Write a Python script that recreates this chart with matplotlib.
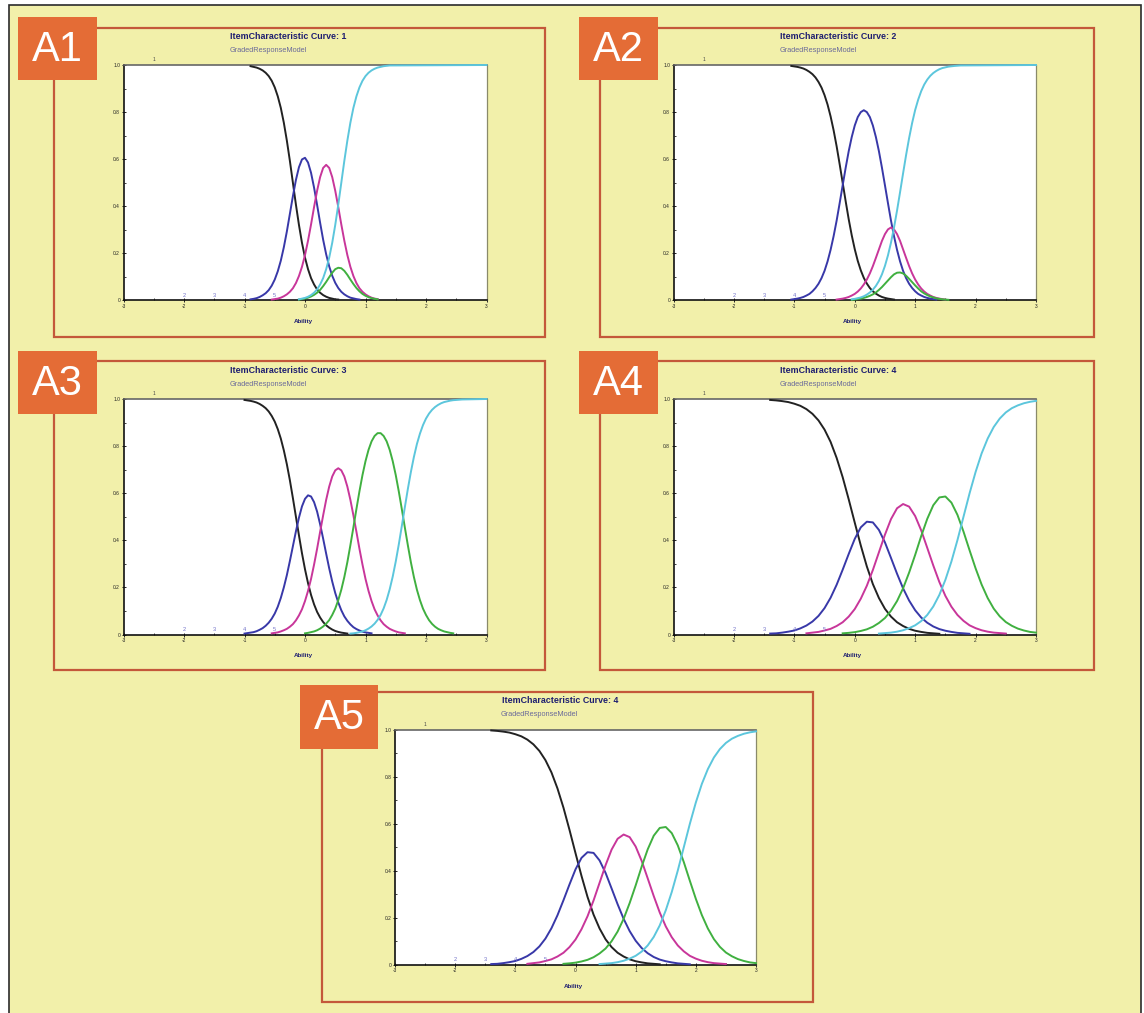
import matplotlib
matplotlib.use("Agg")
import matplotlib.pyplot as plt
from matplotlib.patches import Rectangle
from matplotlib.ticker import MultipleLocator

plt.rcParams["axes.unicode_minus"] = False
plt.rcParams["font.family"] = ["Liberation Sans", "DejaVu Sans"]

nan = float("nan")

# ---- values (probability of each response category vs ability) ----
category_labels = ["1", "2", "3", "4", "5"]
subtitle = "GradedResponseModel"
x_label = "Ability"
panel_tags = ["A1", "A2", "A3", "A4", "A5"]
panel_titles = ["ItemCharacteristic Curve: 1", "ItemCharacteristic Curve: 2",
                "ItemCharacteristic Curve: 3", "ItemCharacteristic Curve: 4",
                "ItemCharacteristic Curve: 4"]
y_ticks = [0, 0.2, 0.4, 0.6, 0.8, 1.0]
y_tick_labels = ["0", "0.2", "0.4", "0.6", "0.8", "1.0"]
x_ticks = [-3, -2, -1, 0, 1, 2, 3]

# item 1
a1_x = [-0.90, -0.85, -0.80, -0.75, -0.70, -0.65, -0.60, -0.55, -0.50, -0.45,
        -0.40, -0.35, -0.30, -0.25, -0.20, -0.15, -0.10, -0.05, 0.00, 0.05,
        0.10, 0.15, 0.20, 0.25, 0.30, 0.35, 0.40, 0.45, 0.50, 0.55,
        0.60, 0.65, 0.70, 0.75, 0.80, 0.85, 0.90, 0.95, 1.00, 1.05,
        1.10, 1.15, 1.20, 1.30, 1.40, 3.00]
a1_black = [0.995, 0.992, 0.989, 0.984, 0.977, 0.967, 0.953, 0.933, 0.905, 0.867,
            0.818, 0.755, 0.679, 0.593, 0.500, 0.407, 0.321, 0.245, 0.182, 0.133,
            0.095, 0.068, 0.047, 0.033, 0.023, 0.016, 0.011, 0.008, 0.005, 0.004] + [nan] * 16
a1_blue = [0.005, 0.007, 0.010, 0.015, 0.022, 0.031, 0.044, 0.063, 0.089, 0.124,
           0.169, 0.226, 0.293, 0.368, 0.443, 0.512, 0.566, 0.599, 0.606, 0.586,
           0.542, 0.479, 0.406, 0.330, 0.258, 0.196, 0.145, 0.105, 0.075, 0.053,
           0.037, 0.026, 0.018, 0.012, 0.009, 0.006, 0.004] + [nan] * 9
a1_magenta = [nan] * 7 + [0.004, 0.006, 0.008, 0.012, 0.018, 0.026, 0.037, 0.052, 0.074, 0.104,
                          0.143, 0.193, 0.254, 0.323, 0.397, 0.466, 0.524, 0.563, 0.576, 0.563,
                          0.524, 0.466, 0.397, 0.323, 0.254, 0.193, 0.143, 0.104, 0.074, 0.052,
                          0.037, 0.026, 0.018, 0.012, 0.008, 0.006] + [nan] * 3
a1_green = [nan] * 16 + [0.004, 0.006, 0.008, 0.012, 0.017, 0.024, 0.033, 0.045, 0.061, 0.079,
                         0.099, 0.118, 0.133, 0.139, 0.137, 0.126, 0.109, 0.089, 0.070, 0.053,
                         0.039, 0.028, 0.020, 0.014, 0.010, 0.007, 0.005] + [nan] * 3
a1_cyan = [nan] * 16 + [0.005, 0.008, 0.011, 0.016, 0.023, 0.033, 0.047, 0.068, 0.095, 0.133,
                        0.182, 0.245, 0.321, 0.407, 0.500, 0.593, 0.679, 0.755, 0.818, 0.867,
                        0.905, 0.933, 0.953, 0.967, 0.977, 0.984, 0.989, 0.995, 0.998, 1.000]

# item 2
a2_x = [-1.05, -1.00, -0.95, -0.90, -0.85, -0.80, -0.75, -0.70, -0.65, -0.60,
        -0.55, -0.50, -0.45, -0.40, -0.35, -0.30, -0.25, -0.20, -0.15, -0.10,
        -0.05, 0.00, 0.05, 0.10, 0.15, 0.20, 0.25, 0.30, 0.35, 0.40,
        0.45, 0.50, 0.55, 0.60, 0.65, 0.70, 0.75, 0.80, 0.85, 0.90,
        0.95, 1.00, 1.05, 1.10, 1.15, 1.20, 1.25, 1.30, 1.35, 1.40,
        1.45, 1.50, 1.55, 1.65, 1.75, 3.00]
a2_black = [0.996, 0.994, 0.992, 0.989, 0.985, 0.979, 0.971, 0.961, 0.947, 0.928,
            0.904, 0.872, 0.832, 0.782, 0.723, 0.655, 0.579, 0.500, 0.421, 0.345,
            0.277, 0.218, 0.168, 0.128, 0.096, 0.072, 0.053, 0.039, 0.029, 0.021,
            0.015, 0.011, 0.008, 0.006, 0.004] + [nan] * 21
a2_blue = [0.004, 0.006, 0.008, 0.011, 0.015, 0.021, 0.028, 0.039, 0.053, 0.071,
           0.095, 0.126, 0.166, 0.215, 0.273, 0.339, 0.413, 0.489, 0.564, 0.634,
           0.694, 0.743, 0.779, 0.800, 0.808, 0.800, 0.779, 0.743, 0.694, 0.634,
           0.564, 0.489, 0.413, 0.339, 0.273, 0.215, 0.166, 0.126, 0.095, 0.071,
           0.053, 0.039, 0.028, 0.021, 0.015, 0.011, 0.008, 0.006, 0.004] + [nan] * 7
a2_magenta = [nan] * 15 + [0.004, 0.006, 0.008, 0.011, 0.015, 0.021, 0.028, 0.038, 0.051, 0.068,
                           0.089, 0.115, 0.146, 0.181, 0.217, 0.253, 0.282, 0.302, 0.310, 0.302,
                           0.282, 0.253, 0.217, 0.181, 0.146, 0.115, 0.089, 0.068, 0.051, 0.038,
                           0.028, 0.021, 0.015, 0.011, 0.008, 0.006, 0.004] + [nan] * 4
a2_green = [nan] * 20 + [0.003, 0.004, 0.006, 0.008, 0.011, 0.015, 0.020, 0.026, 0.034, 0.045,
                         0.057, 0.071, 0.085, 0.099, 0.111, 0.118, 0.119, 0.115, 0.105, 0.092,
                         0.078, 0.064, 0.051, 0.039, 0.030, 0.023, 0.017, 0.013, 0.009, 0.007,
                         0.005, 0.004, 0.003] + [nan] * 3
a2_cyan = [nan] * 20 + [0.005, 0.007, 0.010, 0.013, 0.018, 0.025, 0.034, 0.046, 0.062, 0.083,
                        0.111, 0.147, 0.192, 0.246, 0.310, 0.382, 0.460, 0.540, 0.618, 0.690,
                        0.754, 0.809, 0.853, 0.889, 0.917, 0.938, 0.954, 0.966, 0.975, 0.982,
                        0.987, 0.990, 0.993, 0.996, 0.998, 1.000]

# item 3
a3_x = [-1.00, -0.95, -0.90, -0.85, -0.80, -0.75, -0.70, -0.65, -0.60, -0.55,
        -0.50, -0.45, -0.40, -0.35, -0.30, -0.25, -0.20, -0.15, -0.10, -0.05,
        0.00, 0.05, 0.10, 0.15, 0.20, 0.25, 0.30, 0.35, 0.40, 0.45,
        0.50, 0.55, 0.60, 0.65, 0.70, 0.75, 0.80, 0.85, 0.90, 0.95,
        1.00, 1.05, 1.10, 1.15, 1.20, 1.25, 1.30, 1.35, 1.40, 1.45,
        1.50, 1.55, 1.60, 1.65, 1.70, 1.75, 1.80, 1.85, 1.90, 1.95,
        2.00, 2.05, 2.10, 2.15, 2.20, 2.25, 2.30, 2.35, 2.40, 2.45,
        2.50, 2.60, 3.00]
a3_black = [0.996, 0.994, 0.992, 0.989, 0.985, 0.979, 0.971, 0.961, 0.947, 0.928,
            0.904, 0.872, 0.832, 0.782, 0.723, 0.655, 0.579, 0.500, 0.421, 0.345,
            0.277, 0.218, 0.168, 0.128, 0.096, 0.072, 0.053, 0.039, 0.029, 0.021,
            0.015, 0.011, 0.008, 0.006, 0.004] + [nan] * 38
a3_blue = [0.004, 0.006, 0.008, 0.010, 0.014, 0.020, 0.027, 0.037, 0.050, 0.067,
           0.089, 0.118, 0.155, 0.200, 0.252, 0.312, 0.375, 0.438, 0.496, 0.544,
           0.576, 0.591, 0.586, 0.562, 0.522, 0.468, 0.407, 0.343, 0.281, 0.225,
           0.176, 0.136, 0.103, 0.077, 0.058, 0.043, 0.031, 0.023, 0.017, 0.012,
           0.009, 0.007, 0.005] + [nan] * 30
a3_magenta = [nan] * 9 + [0.005, 0.007, 0.009, 0.013, 0.018, 0.024, 0.033, 0.044, 0.060, 0.081,
                          0.107, 0.142, 0.185, 0.236, 0.297, 0.364, 0.436, 0.506, 0.572, 0.628,
                          0.671, 0.697, 0.706, 0.697, 0.671, 0.628, 0.572, 0.506, 0.436, 0.364,
                          0.297, 0.236, 0.185, 0.142, 0.107, 0.081, 0.060, 0.044, 0.033, 0.024,
                          0.018, 0.013, 0.009, 0.007, 0.005] + [nan] * 19
a3_green = [nan] * 20 + [0.005, 0.007, 0.010, 0.013, 0.018, 0.025, 0.034, 0.046, 0.061, 0.083,
                         0.110, 0.146, 0.190, 0.244, 0.307, 0.379, 0.455, 0.533, 0.608, 0.677,
                         0.736, 0.784, 0.820, 0.843, 0.855, 0.855, 0.843, 0.820, 0.784, 0.736,
                         0.677, 0.608, 0.533, 0.455, 0.379, 0.307, 0.244, 0.190, 0.146, 0.110,
                         0.083, 0.061, 0.045, 0.033, 0.024, 0.018, 0.013, 0.010, 0.007, 0.005] + [nan] * 3
a3_cyan = [nan] * 35 + [0.004, 0.005, 0.007, 0.010, 0.013, 0.018, 0.025, 0.034, 0.046, 0.062,
                        0.083, 0.111, 0.147, 0.192, 0.246, 0.310, 0.382, 0.460, 0.540, 0.618,
                        0.690, 0.754, 0.809, 0.853, 0.889, 0.917, 0.938, 0.954, 0.966, 0.975,
                        0.982, 0.987, 0.990, 0.993, 0.995, 0.996, 0.998, 1.000]

# item 4 (shown twice, A4 and A5)
a4_x = [-1.4, -1.3, -1.2, -1.1, -1.0, -0.9, -0.8, -0.7, -0.6, -0.5,
        -0.4, -0.3, -0.2, -0.1, 0.0, 0.1, 0.2, 0.3, 0.4, 0.5,
        0.6, 0.7, 0.8, 0.9, 1.0, 1.1, 1.2, 1.3, 1.4, 1.5,
        1.6, 1.7, 1.8, 1.9, 2.0, 2.1, 2.2, 2.3, 2.4, 2.5,
        2.6, 2.7, 2.8, 2.9, 3.0]
a4_black = [0.996, 0.994, 0.991, 0.987, 0.980, 0.971, 0.957, 0.937, 0.909, 0.870,
            0.818, 0.750, 0.668, 0.574, 0.475, 0.378, 0.289, 0.214, 0.155, 0.109,
            0.076, 0.052, 0.036, 0.024, 0.016, 0.011, 0.007, 0.005, 0.003] + [nan] * 16
a4_blue = [0.004, 0.005, 0.008, 0.012, 0.017, 0.026, 0.038, 0.055, 0.079, 0.112,
           0.156, 0.211, 0.275, 0.342, 0.406, 0.455, 0.479, 0.476, 0.444, 0.391,
           0.325, 0.258, 0.196, 0.144, 0.103, 0.072, 0.050, 0.034, 0.023, 0.016,
           0.011, 0.007, 0.005, 0.003] + [nan] * 11
a4_magenta = [nan] * 6 + [0.005, 0.008, 0.011, 0.017, 0.024, 0.036, 0.052, 0.076, 0.108, 0.152,
                          0.207, 0.274, 0.349, 0.424, 0.490, 0.536, 0.554, 0.543, 0.503, 0.442,
                          0.368, 0.293, 0.223, 0.164, 0.118, 0.083, 0.058, 0.039, 0.027, 0.018,
                          0.012, 0.008, 0.006, 0.004] + [nan] * 5
a4_green = [nan] * 12 + [0.005, 0.007, 0.010, 0.015, 0.022, 0.033, 0.049, 0.070, 0.101, 0.142,
                         0.196, 0.263, 0.338, 0.418, 0.491, 0.549, 0.582, 0.586, 0.560, 0.508,
                         0.437, 0.358, 0.281, 0.212, 0.155, 0.110, 0.077, 0.053, 0.037, 0.025,
                         0.017, 0.011, 0.008]
a4_cyan = [nan] * 18 + [0.004, 0.006, 0.008, 0.012, 0.018, 0.027, 0.039, 0.057, 0.083, 0.119,
                        0.168, 0.232, 0.310, 0.401, 0.500, 0.599, 0.690, 0.769, 0.832, 0.881,
                        0.917, 0.943, 0.961, 0.973, 0.982, 0.988, 0.992]

# ---- styling ----
W, H = 1144, 1013
YELLOW = "#f2f0aa"
FRAME = "#c4583a"
ORANGE = "#e46c36"
NAVY = "#1e1e70"
LINE_COLORS = ["#222222", "#3838a8", "#c8369a", "#40b040", "#5cc6dc"]

fig = plt.figure(figsize=(W / 100, H / 100), dpi=100)
fig.patch.set_facecolor("white")

# background canvas in pixel coordinates
bg = fig.add_axes([0, 0, 1, 1])
bg.set_xlim(0, W)
bg.set_ylim(H, 0)
bg.axis("off")
bg.add_patch(Rectangle((8.5, 5), 1141 - 8.5, H, facecolor=YELLOW,
                       edgecolor="#2b2b2b", lw=1.2))


def draw_panel(axes_box, frame_box, tag_box, tag, title, x, curves):
    x0, y0, x1, y1 = axes_box
    fx0, fy0, fx1, fy1 = frame_box
    bg.add_patch(Rectangle((fx0, fy0), fx1 - fx0, fy1 - fy0, fill=False,
                           edgecolor=FRAME, lw=1.6, zorder=2))
    tx0, ty0, tx1, ty1 = tag_box
    bg.add_patch(Rectangle((tx0, ty0), tx1 - tx0, ty1 - ty0, facecolor=ORANGE,
                           edgecolor="none", zorder=3))
    bg.text((tx0 + tx1) / 2, (ty0 + ty1) / 2 + 1, tag, color="white", fontsize=30,
            ha="center", va="center", zorder=4)
    bg.text(x0 + 107, y0 - 29, title, color=NAVY, fontsize=6.4, fontweight="bold",
            ha="left", va="center")
    bg.text(x0 + 106, y0 - 15, subtitle, color="#6a6a9a", fontsize=5.3,
            ha="left", va="center")
    bg.text((x0 + x1) / 2 - 2, y1 + 21, x_label, color=NAVY, fontsize=4.5,
            fontweight="bold", ha="center", va="center")

    ax = fig.add_axes([x0 / W, 1 - y1 / H, (x1 - x0) / W, (y1 - y0) / H])
    ax.set_facecolor("white")
    for y, c in zip(curves, LINE_COLORS):
        ax.plot(x, y, color=c, lw=1.4, zorder=3, clip_on=False)
    ax.set_xlim(-3, 3)
    ax.set_ylim(0, 1)
    ax.set_xticks(x_ticks)
    ax.set_xticklabels([str(t) for t in x_ticks])
    ax.set_yticks(y_ticks)
    ax.set_yticklabels(y_tick_labels)
    ax.xaxis.set_minor_locator(MultipleLocator(0.5))
    ax.yaxis.set_minor_locator(MultipleLocator(0.1))
    ax.tick_params(which="major", labelsize=3.5, length=3, width=0.7, pad=1,
                   direction="inout", colors="#222222")
    ax.tick_params(which="minor", length=1.5, width=0.6, direction="in", colors="#222222")
    for side in ["left", "bottom"]:
        ax.spines[side].set_color("#111111")
        ax.spines[side].set_linewidth(1.2)
    ax.spines["top"].set_color("#666666")
    ax.spines["top"].set_linewidth(1.2)
    ax.spines["right"].set_color("#8a8a6a")
    ax.spines["right"].set_linewidth(0.9)

    # category markers
    ax.text(-2.5, 1.012, category_labels[0], color="#444444", fontsize=3.5,
            ha="center", va="bottom", clip_on=False)
    for lab, xp in zip(category_labels[1:], [-2.0, -1.5, -1.0, -0.5]):
        ax.text(xp, 0.012, lab, color="#6f6fc8", fontsize=4, ha="center", va="bottom")
    return ax


a1 = [a1_black, a1_blue, a1_magenta, a1_green, a1_cyan]
a2 = [a2_black, a2_blue, a2_magenta, a2_green, a2_cyan]
a3 = [a3_black, a3_blue, a3_magenta, a3_green, a3_cyan]
a4 = [a4_black, a4_blue, a4_magenta, a4_green, a4_cyan]

draw_panel((123.5, 65, 486.5, 300.5), (53.5, 28, 545, 337), (18, 17, 97, 80),
           panel_tags[0], panel_titles[0], a1_x, a1)
draw_panel((673.5, 65, 1036, 300.5), (600, 28, 1094, 337), (579, 17, 658, 80),
           panel_tags[1], panel_titles[1], a2_x, a2)
draw_panel((123.5, 399, 486.5, 634.5), (53.5, 361, 545, 670), (18, 351, 97, 414),
           panel_tags[2], panel_titles[2], a3_x, a3)
draw_panel((673.5, 399, 1036, 634.5), (600, 361, 1094, 670), (579, 351, 658, 414),
           panel_tags[3], panel_titles[3], a4_x, a4)
draw_panel((395, 729.5, 756, 965), (322, 692, 813, 1001.5), (300, 685, 378, 749),
           panel_tags[4], panel_titles[4], a4_x, a4)

fig.savefig("out.png", dpi=100, facecolor=fig.get_facecolor())
